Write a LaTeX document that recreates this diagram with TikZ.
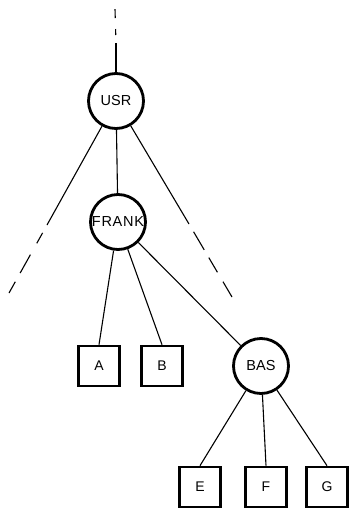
\documentclass[tikz,border=0pt]{standalone}
\usepackage{fontspec}
\setmainfont{Liberation Sans}
\begin{document}
\begin{tikzpicture}[x=1pt,y=-1pt,
  dir/.style={circle,draw,line width=2.8pt,minimum size=55pt,inner sep=0pt,font=\fontsize{14.5}{14.5}\selectfont},
  file/.style={rectangle,draw,line width=2.6pt,minimum width=41pt,minimum height=40pt,inner sep=0pt,font=\fontsize{14}{14}\selectfont},
  link/.style={line width=1.1pt}]
\useasboundingbox (0,0) rectangle (351,509);

% directories
\node[dir] (usr) at (116,101) {USR};
\node[dir] (frank) at (118,222) {\addfontfeatures{LetterSpace=5}FRANK};
\node[dir] (bas) at (261,366) {BAS};

% files
\node[file] (a) at (99,366) {A};
\node[file] (b) at (162,366) {B};
\node[file] (e) at (200,487) {E};
\node[file] (f) at (266,487) {F};
\node[file] (g) at (327,487) {G};

% open-ended branches: solid near the node, broken further out
\coordinate (tsol) at (116,43);
\coordinate (ttop) at (115,9);
\coordinate (lsol) at (47,225);
\coordinate (lend) at (9,293);
\coordinate (rsol) at (189,224);
\coordinate (rend) at (232,297);

\draw[link] (usr) -- (tsol);
\draw[link,dash pattern=on 0pt off 8pt on 6pt off 11pt on 9pt off 20pt] (tsol) -- (ttop);
\draw[link] (usr) -- (lsol);
\draw[link,dash pattern=on 0pt off 9pt on 12pt off 13pt on 21pt off 10pt on 14pt off 20pt] (lsol) -- (lend);
\draw[link] (usr) -- (rsol);
\draw[link,dash pattern=on 0pt off 9pt on 21pt off 9pt on 17pt off 11pt on 20pt off 20pt] (rsol) -- (rend);

% tree edges
\draw[link] (usr) -- (frank);
\draw[link] (frank) -- (a.north);
\draw[link] (frank) -- (b.north);
\draw[link] (frank) -- (bas);
\draw[link] (bas) -- (e.north);
\draw[link] (bas) -- (f.north);
\draw[link] (bas) -- (g.north);
\end{tikzpicture}
\end{document}
